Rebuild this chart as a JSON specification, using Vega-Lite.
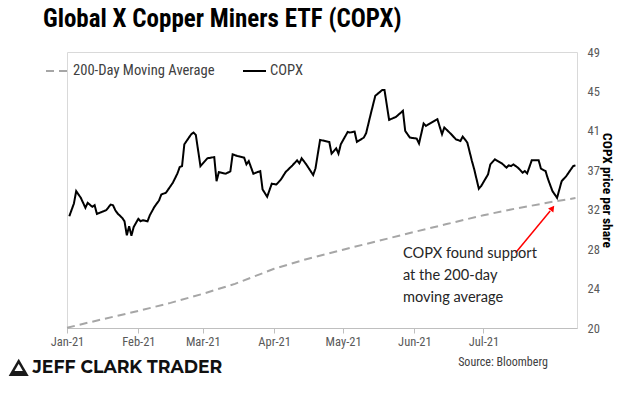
{
  "$schema": "https://vega.github.io/schema/vega-lite/v6.json",
  "width": 510,
  "height": 276,
  "autosize": {"type": "none"},
  "padding": {"left": 67, "top": 52, "right": 47, "bottom": 68},
  "background": "white",
  "title": {
    "text": "Global X Copper Miners ETF (COPX)",
    "anchor": "start",
    "frame": "group",
    "font": "Roboto Condensed",
    "fontSize": 25,
    "fontWeight": "bold",
    "color": "#000000",
    "offset": 14,
    "dx": -24
  },
  "config": {
    "view": {"stroke": "#d9d9d9", "strokeWidth": 1},
    "font": "Roboto Condensed",
    "axis": {"labelOverlap": false}
  },
  "datasets": {
    "lines": [
      {"date": "2021-01-01", "price": 20.03, "series": "200-Day Moving Average"},
      {"date": "2021-01-15", "price": 20.84, "series": "200-Day Moving Average"},
      {"date": "2021-02-01", "price": 21.79, "series": "200-Day Moving Average"},
      {"date": "2021-02-15", "price": 22.64, "series": "200-Day Moving Average"},
      {"date": "2021-03-01", "price": 23.59, "series": "200-Day Moving Average"},
      {"date": "2021-03-15", "price": 24.64, "series": "200-Day Moving Average"},
      {"date": "2021-04-01", "price": 26.22, "series": "200-Day Moving Average"},
      {"date": "2021-04-15", "price": 27.23, "series": "200-Day Moving Average"},
      {"date": "2021-05-01", "price": 28.23, "series": "200-Day Moving Average"},
      {"date": "2021-05-15", "price": 29.07, "series": "200-Day Moving Average"},
      {"date": "2021-06-01", "price": 30.1, "series": "200-Day Moving Average"},
      {"date": "2021-06-15", "price": 30.92, "series": "200-Day Moving Average"},
      {"date": "2021-07-01", "price": 31.85, "series": "200-Day Moving Average"},
      {"date": "2021-07-15", "price": 32.55, "series": "200-Day Moving Average"},
      {"date": "2021-08-01", "price": 33.3, "series": "200-Day Moving Average"},
      {"date": "2021-08-10", "price": 33.65, "series": "200-Day Moving Average"},
      {"date": "2021-01-02", "price": 31.74, "series": "COPX"},
      {"date": "2021-01-04", "price": 33.08, "series": "COPX"},
      {"date": "2021-01-05", "price": 34.38, "series": "COPX"},
      {"date": "2021-01-07", "price": 33.68, "series": "COPX"},
      {"date": "2021-01-09", "price": 32.63, "series": "COPX"},
      {"date": "2021-01-10", "price": 33.15, "series": "COPX"},
      {"date": "2021-01-12", "price": 32.73, "series": "COPX"},
      {"date": "2021-01-13", "price": 32.9, "series": "COPX"},
      {"date": "2021-01-14", "price": 31.99, "series": "COPX"},
      {"date": "2021-01-18", "price": 32.37, "series": "COPX"},
      {"date": "2021-01-20", "price": 32.97, "series": "COPX"},
      {"date": "2021-01-21", "price": 32.9, "series": "COPX"},
      {"date": "2021-01-22", "price": 32.37, "series": "COPX"},
      {"date": "2021-01-23", "price": 32.03, "series": "COPX"},
      {"date": "2021-01-25", "price": 31.57, "series": "COPX"},
      {"date": "2021-01-26", "price": 31.21, "series": "COPX"},
      {"date": "2021-01-27", "price": 29.74, "series": "COPX"},
      {"date": "2021-01-28", "price": 30.69, "series": "COPX"},
      {"date": "2021-01-29", "price": 29.7, "series": "COPX"},
      {"date": "2021-01-30", "price": 30.62, "series": "COPX"},
      {"date": "2021-02-01", "price": 31.47, "series": "COPX"},
      {"date": "2021-02-02", "price": 31.21, "series": "COPX"},
      {"date": "2021-02-03", "price": 31.32, "series": "COPX"},
      {"date": "2021-02-05", "price": 31.21, "series": "COPX"},
      {"date": "2021-02-06", "price": 31.85, "series": "COPX"},
      {"date": "2021-02-08", "price": 32.73, "series": "COPX"},
      {"date": "2021-02-10", "price": 33.4, "series": "COPX"},
      {"date": "2021-02-11", "price": 34.03, "series": "COPX"},
      {"date": "2021-02-13", "price": 34.21, "series": "COPX"},
      {"date": "2021-02-16", "price": 35.26, "series": "COPX"},
      {"date": "2021-02-18", "price": 36.24, "series": "COPX"},
      {"date": "2021-02-19", "price": 36.91, "series": "COPX"},
      {"date": "2021-02-20", "price": 37.01, "series": "COPX"},
      {"date": "2021-02-21", "price": 39.3, "series": "COPX"},
      {"date": "2021-02-23", "price": 40.01, "series": "COPX"},
      {"date": "2021-02-24", "price": 40.36, "series": "COPX"},
      {"date": "2021-02-25", "price": 40.54, "series": "COPX"},
      {"date": "2021-02-26", "price": 40.28, "series": "COPX"},
      {"date": "2021-02-28", "price": 37.01, "series": "COPX"},
      {"date": "2021-03-03", "price": 37.83, "series": "COPX"},
      {"date": "2021-03-06", "price": 37.96, "series": "COPX"},
      {"date": "2021-03-07", "price": 35.43, "series": "COPX"},
      {"date": "2021-03-08", "price": 36.38, "series": "COPX"},
      {"date": "2021-03-11", "price": 36.21, "series": "COPX"},
      {"date": "2021-03-13", "price": 36.46, "series": "COPX"},
      {"date": "2021-03-14", "price": 38.25, "series": "COPX"},
      {"date": "2021-03-16", "price": 38.07, "series": "COPX"},
      {"date": "2021-03-19", "price": 37.9, "series": "COPX"},
      {"date": "2021-03-20", "price": 37.19, "series": "COPX"},
      {"date": "2021-03-21", "price": 37.54, "series": "COPX"},
      {"date": "2021-03-23", "price": 36.21, "series": "COPX"},
      {"date": "2021-03-26", "price": 36.49, "series": "COPX"},
      {"date": "2021-03-27", "price": 34.56, "series": "COPX"},
      {"date": "2021-03-29", "price": 33.79, "series": "COPX"},
      {"date": "2021-03-31", "price": 35.16, "series": "COPX"},
      {"date": "2021-04-02", "price": 35.08, "series": "COPX"},
      {"date": "2021-04-04", "price": 35.61, "series": "COPX"},
      {"date": "2021-04-06", "price": 36.38, "series": "COPX"},
      {"date": "2021-04-09", "price": 37.09, "series": "COPX"},
      {"date": "2021-04-11", "price": 37.62, "series": "COPX"},
      {"date": "2021-04-12", "price": 37.3, "series": "COPX"},
      {"date": "2021-04-13", "price": 37.83, "series": "COPX"},
      {"date": "2021-04-15", "price": 37.19, "series": "COPX"},
      {"date": "2021-04-18", "price": 36.07, "series": "COPX"},
      {"date": "2021-04-19", "price": 36.77, "series": "COPX"},
      {"date": "2021-04-21", "price": 39.76, "series": "COPX"},
      {"date": "2021-04-25", "price": 39.55, "series": "COPX"},
      {"date": "2021-04-26", "price": 38.32, "series": "COPX"},
      {"date": "2021-04-28", "price": 38.88, "series": "COPX"},
      {"date": "2021-04-29", "price": 38.32, "series": "COPX"},
      {"date": "2021-04-30", "price": 39.3, "series": "COPX"},
      {"date": "2021-05-03", "price": 40.6, "series": "COPX"},
      {"date": "2021-05-04", "price": 40.54, "series": "COPX"},
      {"date": "2021-05-06", "price": 40.64, "series": "COPX"},
      {"date": "2021-05-07", "price": 39.55, "series": "COPX"},
      {"date": "2021-05-10", "price": 40.01, "series": "COPX"},
      {"date": "2021-05-11", "price": 40.46, "series": "COPX"},
      {"date": "2021-05-13", "price": 42.47, "series": "COPX"},
      {"date": "2021-05-15", "price": 44.4, "series": "COPX"},
      {"date": "2021-05-18", "price": 45.0, "series": "COPX"},
      {"date": "2021-05-19", "price": 45.0, "series": "COPX"},
      {"date": "2021-05-21", "price": 41.87, "series": "COPX"},
      {"date": "2021-05-24", "price": 42.18, "series": "COPX"},
      {"date": "2021-05-27", "price": 42.82, "series": "COPX"},
      {"date": "2021-05-28", "price": 40.71, "series": "COPX"},
      {"date": "2021-05-30", "price": 40.01, "series": "COPX"},
      {"date": "2021-06-02", "price": 39.9, "series": "COPX"},
      {"date": "2021-06-03", "price": 39.38, "series": "COPX"},
      {"date": "2021-06-05", "price": 41.49, "series": "COPX"},
      {"date": "2021-06-06", "price": 41.23, "series": "COPX"},
      {"date": "2021-06-11", "price": 41.94, "series": "COPX"},
      {"date": "2021-06-13", "price": 40.36, "series": "COPX"},
      {"date": "2021-06-14", "price": 41.07, "series": "COPX"},
      {"date": "2021-06-17", "price": 40.36, "series": "COPX"},
      {"date": "2021-06-19", "price": 39.83, "series": "COPX"},
      {"date": "2021-06-21", "price": 39.65, "series": "COPX"},
      {"date": "2021-06-22", "price": 40.12, "series": "COPX"},
      {"date": "2021-06-24", "price": 39.48, "series": "COPX"},
      {"date": "2021-06-26", "price": 37.54, "series": "COPX"},
      {"date": "2021-06-27", "price": 36.67, "series": "COPX"},
      {"date": "2021-06-29", "price": 34.63, "series": "COPX"},
      {"date": "2021-06-30", "price": 34.91, "series": "COPX"},
      {"date": "2021-07-03", "price": 36.14, "series": "COPX"},
      {"date": "2021-07-04", "price": 37.19, "series": "COPX"},
      {"date": "2021-07-06", "price": 37.72, "series": "COPX"},
      {"date": "2021-07-09", "price": 37.3, "series": "COPX"},
      {"date": "2021-07-11", "price": 36.85, "series": "COPX"},
      {"date": "2021-07-12", "price": 37.09, "series": "COPX"},
      {"date": "2021-07-13", "price": 37.01, "series": "COPX"},
      {"date": "2021-07-14", "price": 37.19, "series": "COPX"},
      {"date": "2021-07-16", "price": 36.85, "series": "COPX"},
      {"date": "2021-07-18", "price": 36.32, "series": "COPX"},
      {"date": "2021-07-19", "price": 36.49, "series": "COPX"},
      {"date": "2021-07-20", "price": 36.24, "series": "COPX"},
      {"date": "2021-07-22", "price": 37.62, "series": "COPX"},
      {"date": "2021-07-25", "price": 37.62, "series": "COPX"},
      {"date": "2021-07-26", "price": 36.74, "series": "COPX"},
      {"date": "2021-07-28", "price": 36.49, "series": "COPX"},
      {"date": "2021-07-29", "price": 35.69, "series": "COPX"},
      {"date": "2021-07-31", "price": 34.38, "series": "COPX"},
      {"date": "2021-08-02", "price": 33.68, "series": "COPX"},
      {"date": "2021-08-04", "price": 35.43, "series": "COPX"},
      {"date": "2021-08-06", "price": 35.96, "series": "COPX"},
      {"date": "2021-08-09", "price": 37.01, "series": "COPX"},
      {"date": "2021-08-10", "price": 37.09, "series": "COPX"}
    ],
    "arrow": [
      {"date": "2021-07-15", "price": 27.9, "date2": "2021-07-30", "price2": 32.3}
    ],
    "arrowhead": [
      {"date": "2021-07-31", "price": 32.6}
    ],
    "note": [
      {"date": "2021-05-27", "price": 28.65, "label": "COPX found support\nat the 200-day\nmoving average"}
    ],
    "source": [
      {"date": "2021-07-29", "price": 16.4, "label": "Source: Bloomberg"}
    ],
    "brand": [
      {"date": "2020-12-17", "price": 15.8, "label": "JEFF CLARK TRADER"}
    ],
    "logo": [
      {"date": "2020-12-11", "price": 15.86, "part": "outer"},
      {"date": "2020-12-11", "price": 15.86, "part": "inner"}
    ]
  },
  "layer": [
    {
      "data": {"name": "lines"},
      "mark": {"type": "line", "strokeWidth": 2},
      "encoding": {
        "x": {
          "field": "date",
          "type": "temporal",
          "scale": {
            "type": "utc",
            "domain": [
              {"year": 2021, "month": 1, "date": 1, "utc": true},
              {"year": 2021, "month": 8, "date": 10, "hours": 16, "utc": true}
            ]
          },
          "axis": {
            "title": null,
            "values": [
              {"year": 2021, "month": 1, "date": 1, "utc": true},
              {"year": 2021, "month": 2, "date": 1, "utc": true},
              {"year": 2021, "month": 3, "date": 1, "utc": true},
              {"year": 2021, "month": 4, "date": 1, "utc": true},
              {"year": 2021, "month": 5, "date": 1, "utc": true},
              {"year": 2021, "month": 6, "date": 1, "utc": true},
              {"year": 2021, "month": 7, "date": 1, "utc": true}
            ],
            "tickCount": 20,
            "format": "%b-%y",
            "grid": false,
            "domainColor": "#bfbfbf",
            "tickColor": "#bfbfbf",
            "tickSize": 5,
            "labelColor": "#595959",
            "labelFontSize": 12.5,
            "labelPadding": 2,
            "labelFlush": false,
            "labelOverlap": false
          }
        },
        "y": {
          "field": "price",
          "type": "quantitative",
          "scale": {"domain": [20, 49], "nice": false, "zero": false},
          "axis": {
            "orient": "right",
            "title": "COPX price per share",
            "titleFont": "Roboto Condensed",
            "titleFontSize": 13.5,
            "titleFontWeight": "bold",
            "titleColor": "#000000",
            "titlePadding": 0,
            "values": [20, 24.142857, 28.285714, 32.428571, 36.571429, 40.714286, 44.857143, 49],
            "tickCount": 20,
            "labelExpr": "format(datum.value, '.0f')",
            "grid": false,
            "domain": false,
            "ticks": false,
            "labelPadding": 10,
            "labelColor": "#595959",
            "labelFontSize": 12.5,
            "labelOverlap": false,
            "labelBound": false
          }
        },
        "color": {
          "field": "series",
          "type": "nominal",
          "scale": {"domain": ["200-Day Moving Average", "COPX"], "range": ["#a6a6a6", "#000000"]},
          "legend": {
            "title": null,
            "orient": "none",
            "legendX": -22,
            "legendY": 6,
            "direction": "horizontal",
            "symbolType": "stroke",
            "symbolSize": 529,
            "symbolStrokeWidth": 2,
            "labelFont": "Roboto Condensed",
            "labelFontSize": 14.6,
            "labelColor": "#404040",
            "labelOffset": 3,
            "columnPadding": 24,
            "padding": 0
          }
        },
        "strokeDash": {
          "field": "series",
          "type": "nominal",
          "scale": {"domain": ["200-Day Moving Average", "COPX"], "range": [[8, 5], [1, 0]]},
          "legend": {
            "title": null,
            "orient": "none",
            "legendX": -22,
            "legendY": 6,
            "direction": "horizontal",
            "symbolType": "stroke",
            "symbolSize": 529,
            "symbolStrokeWidth": 2,
            "labelFont": "Roboto Condensed",
            "labelFontSize": 14.6,
            "labelColor": "#404040",
            "labelOffset": 3,
            "columnPadding": 24,
            "padding": 0
          }
        }
      }
    },
    {
      "data": {"name": "arrow"},
      "mark": {"type": "rule", "color": "#ff0000", "strokeWidth": 1.5},
      "encoding": {
        "x": {"field": "date", "type": "temporal"},
        "x2": {"field": "date2"},
        "y": {"field": "price", "type": "quantitative"},
        "y2": {"field": "price2"}
      }
    },
    {
      "data": {"name": "arrowhead"},
      "mark": {"type": "point", "shape": "triangle-up", "filled": true, "color": "#ff0000", "size": 45, "angle": 37, "opacity": 1},
      "encoding": {
        "x": {"field": "date", "type": "temporal"},
        "y": {"field": "price", "type": "quantitative"}
      }
    },
    {
      "data": {"name": "note"},
      "mark": {"type": "text", "align": "left", "baseline": "top", "font": "Lato", "fontSize": 14.6, "lineHeight": 22, "lineBreak": "\n", "color": "#262626"},
      "encoding": {
        "x": {"field": "date", "type": "temporal"},
        "y": {"field": "price", "type": "quantitative"},
        "text": {"field": "label"}
      }
    },
    {
      "data": {"name": "source"},
      "mark": {"type": "text", "align": "right", "baseline": "middle", "font": "Roboto Condensed", "fontSize": 12, "color": "#404040"},
      "encoding": {
        "x": {"field": "date", "type": "temporal"},
        "y": {"field": "price", "type": "quantitative"},
        "text": {"field": "label"}
      }
    },
    {
      "data": {"name": "brand"},
      "mark": {"type": "text", "align": "left", "baseline": "middle", "font": "Montserrat", "fontWeight": 700, "fontSize": 17.3, "color": "#111111"},
      "encoding": {
        "x": {"field": "date", "type": "temporal"},
        "y": {"field": "price", "type": "quantitative"},
        "text": {"field": "label"}
      }
    },
    {
      "data": {"name": "logo"},
      "mark": {"type": "point", "shape": "triangle-up", "filled": true, "opacity": 1},
      "encoding": {
        "x": {"field": "date", "type": "temporal"},
        "y": {"field": "price", "type": "quantitative"},
        "size": {"field": "part", "type": "nominal", "scale": {"domain": ["outer", "inner"], "range": [400, 70]}, "legend": null},
        "fill": {"field": "part", "type": "nominal", "scale": {"domain": ["outer", "inner"], "range": ["#1a1a1a", "#ffffff"]}, "legend": null}
      }
    }
  ]
}
